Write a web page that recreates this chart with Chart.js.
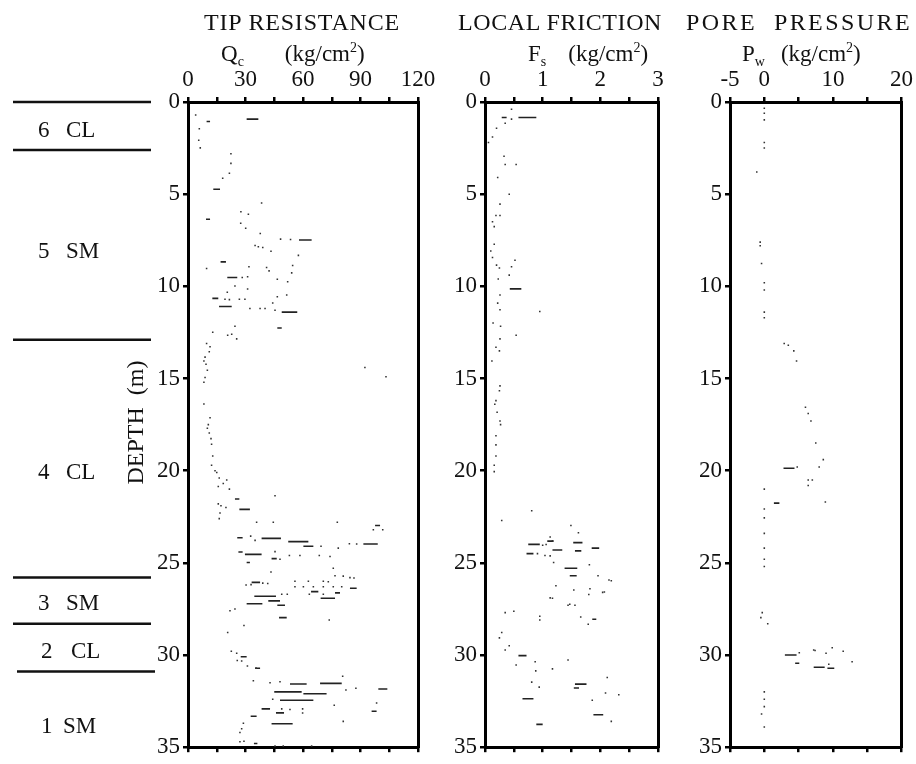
<!DOCTYPE html>
<html><head><meta charset="utf-8">
<script src="https://cdn.jsdelivr.net/npm/chart.js@4.4.1/dist/chart.umd.min.js"></script>
<style>
html,body{margin:0;padding:0;background:#fff;}
#wrap{position:relative;width:916px;height:764px;overflow:hidden;font-family:"Liberation Serif","Times New Roman",serif;color:#111;}
canvas{position:absolute;left:0;top:0;}
.t{position:absolute;white-space:nowrap;font-size:24px;line-height:24px;}
.u{position:absolute;white-space:nowrap;font-size:23px;line-height:23px;}
.u sub{font-size:14px;vertical-align:-5px;line-height:0;}
.u sup{font-size:14px;vertical-align:9px;line-height:0;}
.u .g{display:inline-block;}
</style></head><body>
<div id="wrap">
<canvas id="c1" width="916" height="764" style="width:916px;height:764px"></canvas>
<canvas id="c2" width="916" height="764" style="width:916px;height:764px"></canvas>
<canvas id="c3" width="916" height="764" style="width:916px;height:764px"></canvas>
<div class="t" data-w="196" style="left:204px;top:10px">TIP RESISTANCE</div>
<div class="t" data-w="204" style="left:458px;top:10px">LOCAL FRICTION</div>
<div class="t" data-w="226" style="left:686px;top:10px">PORE&nbsp; PRESSURE</div>
<div class="u" style="left:221px;top:42px">Q<sub>c</sub><span class="g" style="width:41px"></span>(kg/cm<sup>2</sup>)</div>
<div class="u" style="left:528px;top:42px">F<sub>s</sub><span class="g" style="width:22px"></span>(kg/cm<sup>2</sup>)</div>
<div class="u" style="left:742px;top:42px">P<sub>w</sub><span class="g" style="width:16px"></span>(kg/cm<sup>2</sup>)</div>
</div>
<script>
// ---------------- data ----------------
// soil layers (depth in m)
const layerBounds = [0, 2.6, 12.9, 25.8, 28.3, 30.9];
const layerNumbers = ["6", "5", "4", "3", "2", "1"];
const layerCodes = ["CL", "SM", "CL", "SM", "CL", "SM"];
const layerLabelDepths = [1.55, 8.15, 20.15, 27.25, 29.85, 33.9];
const depthTicks = [0, 5, 10, 15, 20, 25, 30, 35];

// Tip resistance Qc (kg/cm2): [depth, Qc]
const qcDots = [[0.70,4.0],[1.45,5.9],[2.08,5.6],[2.49,6.4],[2.81,22.4],[3.33,22.4],[3.87,21.6],[4.14,18.1],[5.48,38.4],[5.95,27.6],[6.09,31.5],[6.58,27.5],[6.85,30.1],[7.13,37.7],[7.44,48.3],[7.46,53.5],[7.78,35.0],[7.85,36.7],[7.89,39.0],[8.10,43.3],[8.32,57.6],[8.87,54.6],[8.94,31.8],[8.98,41.0],[9.16,42.3],[9.27,54.1],[9.03,9.7],[9.52,28.3],[9.48,31.1],[9.61,46.6],[9.75,52.0],[9.98,24.5],[10.14,31.1],[10.32,20.5],[10.47,51.5],[10.56,46.6],[10.70,19.3],[10.72,21.6],[10.70,26.8],[10.70,29.7],[10.9,44.2],[11.2,32.3],[11.2,37.6],[11.2,40.2],[11.3,45.4],[12.17,24.5],[12.49,12.9],[12.6,22.8],[12.65,20.7],[12.85,25.4],[13.1,9.7],[13.28,11.5],[13.55,11.1],[13.84,8.9],[14.05,8.3],[14.23,9.4],[14.55,10.1],[14.95,8.9],[15.2,8.3],[14.4,92.3],[14.9,103.3],[16.38,8.3],[17.13,11.5],[17.5,10.6],[17.7,10.1],[17.96,11.1],[18.26,12.0],[18.57,12.3],[19.2,12.9],[19.7,12.3],[20.0,14.1],[20.1,15.0],[20.4,16.3],[20.7,18.4],[20.5,20.2],[20.86,15.8],[21.0,21.6],[21.36,45.4],[21.8,15.8],[21.9,17.2],[22.0,19.8],[22.3,16.7],[22.6,16.3],[22.8,35.8],[22.8,44.5],[22.8,77.9],[23.2,96.7],[23.2,101.6],[23.55,32.7],[23.78,35.0],[24.1,69.4],[24.2,78.4],[23.96,84.2],[23.98,88.0],[24.39,45.4],[24.6,52.9],[24.6,58.4],[24.6,68.5],[24.65,74.1],[24.8,48.0],[25.29,75.8],[25.5,43.3],[25.7,76.7],[25.72,81.0],[25.8,84.5],[25.82,86.6],[26.2,30.3],[26.18,32.9],[26.1,39.0],[26.12,41.6],[26.0,55.8],[26.0,62.8],[26.0,70.6],[26.02,73.2],[26.3,55.8],[26.3,60.2],[26.3,65.4],[26.3,70.6],[26.3,75.8],[26.3,80.2],[26.7,48.9],[26.7,51.8],[26.7,63.3],[26.7,70.6],[27.6,21.9],[27.5,24.5],[28.1,73.7],[28.4,29.2],[28.78,20.7],[29.8,22.6],[29.9,25.4],[30.3,25.7],[30.32,28.0],[30.6,31.0],[30.7,35.5],[31.15,80.7],[31.4,34.1],[31.5,42.8],[31.45,48.0],[31.9,82.4],[31.8,87.6],[32.4,44.2],[32.6,98.4],[32.72,76.3],[32.92,48.9],[32.95,53.2],[32.92,59.8],[33.14,59.8],[33.6,81.0],[33.7,28.9],[34.0,28.0],[34.2,27.1],[34.7,27.1],[34.68,29.2],[34.93,45.4],[34.93,49.7],[34.93,64.5]];
// short runs of readings: [depth, Qc from, Qc to]
const qcRuns = [[0.93,30.6,36.7],[1.06,9.7,11.5],[4.73,13.2,16.7],[6.36,9.4,11.5],[7.49,57.9,64.5],[8.67,17.0,19.8],[9.52,20.5,25.7],[10.65,12.7,15.8],[11.09,16.2,22.8],[11.4,48.9,57.0],[12.26,46.6,48.9],[21.54,24.5,26.8],[22.1,26.8,32.3],[22.97,97.6,100.2],[23.64,25.7,28.5],[23.67,38.4,48.5],[23.85,52.3,62.8],[24.1,60.2,65.4],[23.98,91.5,99.0],[24.41,26.3,28.5],[24.54,29.7,38.4],[24.77,43.6,46.3],[24.98,30.6,32.3],[26.06,33.2,37.6],[26.38,84.5,88.0],[26.56,64.2,68.0],[26.63,76.7,79.3],[26.81,34.6,45.9],[26.92,69.2,76.7],[27.06,41.9,48.0],[27.22,30.6,38.8],[27.3,46.6,50.6],[27.97,47.5,51.5],[30.09,27.5,30.6],[30.72,35.0,37.6],[31.57,53.2,61.9],[31.54,68.9,80.2],[31.84,99.3,104.0],[32.0,45.0,59.3],[32.1,60.2,72.3],[32.45,48.0,65.4],[32.92,38.4,42.8],[33.05,95.8,98.4],[33.14,45.9,50.1],[33.32,32.7,35.8],[33.73,43.6,54.6],[34.8,34.4,36.2]];

// Local friction Fs (kg/cm2): [depth, Fs]
const fsDots = [[0.39,0.46],[0.93,0.46],[1.15,0.35],[1.42,0.20],[1.9,0.13],[2.2,0.06],[2.94,0.33],[3.39,0.35],[3.39,0.54],[4.1,0.22],[5.0,0.42],[5.54,0.26],[6.16,0.26],[6.16,0.19],[6.5,0.13],[6.76,0.16],[7.72,0.16],[8.08,0.10],[8.44,0.13],[8.85,0.20],[9.0,0.25],[8.58,0.52],[8.94,0.46],[9.39,0.42],[9.6,0.23],[10.47,0.26],[10.91,0.22],[11.27,0.26],[11.36,0.95],[11.99,0.14],[12.17,0.27],[12.65,0.54],[12.85,0.26],[13.3,0.19],[13.5,0.25],[14.05,0.12],[15.4,0.26],[15.66,0.25],[16.2,0.19],[16.4,0.17],[16.83,0.21],[17.3,0.26],[17.5,0.27],[18.1,0.19],[18.6,0.19],[19.2,0.19],[19.7,0.16],[20.05,0.16],[22.17,0.81],[22.7,0.29],[22.97,1.49],[23.37,1.62],[23.6,1.13],[23.8,1.17],[24.0,1.06],[24.05,1.0],[24.5,0.91],[24.6,1.04],[24.62,1.13],[24.98,1.19],[25.1,1.81],[25.7,1.96],[25.93,2.15],[25.97,2.19],[26.24,1.23],[26.47,1.54],[26.4,1.82],[26.72,1.80],[26.6,2.04],[26.58,2.07],[26.9,1.13],[26.92,1.17],[27.3,1.44],[27.25,1.47],[27.3,1.56],[27.7,0.35],[27.62,0.50],[27.9,0.95],[28.1,0.95],[27.94,1.66],[28.33,1.79],[28.78,0.29],[29.07,0.25],[29.73,0.35],[29.5,0.42],[30.36,0.87],[30.54,0.54],[30.27,1.44],[30.75,1.17],[30.86,0.88],[31.22,2.12],[31.47,0.81],[31.74,0.94],[32.06,2.09],[32.15,2.32],[32.45,1.86],[33.6,2.19]];
const fsRuns = [[0.84,0.29,0.375],[0.84,0.58,0.89],[10.14,0.43,0.63],[24.0,0.75,0.95],[23.82,1.08,1.19],[23.9,1.53,1.69],[24.3,1.17,1.34],[24.35,1.56,1.67],[24.2,1.85,1.98],[24.5,0.72,0.84],[25.29,1.38,1.60],[25.7,1.47,1.59],[28.06,1.86,1.93],[30.03,0.58,0.72],[31.58,1.56,1.76],[31.79,1.54,1.63],[32.37,0.65,0.84],[33.24,1.88,2.05],[33.76,0.89,1.0]];

// Pore pressure Pw (kg/cm2): [depth, Pw]
const pwDots = [[0.34,0],[0.61,0],[0.97,0],[2.2,0],[2.5,0],[3.8,-1.1],[7.6,-0.6],[7.8,-0.6],[8.76,-0.4],[9.8,0],[10.2,0],[11.4,0],[11.7,0],[13.1,2.9],[13.2,3.5],[13.5,4.3],[14.05,4.7],[16.56,6.0],[16.9,6.4],[17.3,6.8],[18.5,7.5],[19.4,8.6],[19.8,8.0],[19.8,4.8],[20.5,6.4],[20.5,7.0],[20.8,6.4],[21.0,0],[21.7,8.9],[22.08,0],[22.56,0],[23.4,0],[24.2,0],[24.8,0],[25.2,0],[27.7,-0.3],[27.97,-0.5],[28.3,0.5],[29.88,5.1],[29.73,7.2],[29.75,7.4],[29.9,9.0],[29.6,9.9],[29.8,11.5],[30.36,12.8],[30.5,9.4],[32.0,0],[32.4,0],[32.8,0],[33.2,-0.4],[33.9,0]];
const pwRuns = [[19.87,2.8,4.4],[21.76,1.4,2.2],[30.0,3.0,4.7],[30.45,4.5,5.1],[30.66,7.2,8.8],[30.72,9.2,10.2]];

// axis ticks
const qcTickLabels = [0, 30, 60, 90, 120];
const fsTickLabels = [0, 1, 2, 3];
const pwTickLabels = [-5, 0, 10, 20];

// ---------------- drawing ----------------
const FONT = '"Liberation Serif", "Times New Roman", serif';
const INK = '#111';
const TOP = 102, BOTTOM = 753;

function datasetsFrom(dots, runs) {
  const ds = [{
    type: 'scatter',
    data: dots.map(d => ({x: d[1], y: d[0]})),
    pointRadius: 1.1, pointHoverRadius: 1.1, borderWidth: 0,
    backgroundColor: '#333', pointStyle: 'rect'
  }];
  runs.forEach(r => ds.push({
    type: 'scatter', showLine: true,
    data: [{x: r[1], y: r[0]}, {x: r[2], y: r[0]}],
    borderColor: '#222', borderWidth: 1.6, pointRadius: 0, fill: false
  }));
  return ds;
}

function makeChart(id, cfg) {
  const xTicks = {
    stepSize: cfg.step, autoSkip: false, maxRotation: 0, minRotation: 0,
    color: INK, font: {family: FONT, size: 23}, padding: 3,
    callback: v => cfg.labels.some(l => Math.abs(l - v) < 1e-9) ? String(v) : ''
  };
  const gridT = {drawOnChartArea: false, drawTicks: true, tickLength: 5, color: '#000', lineWidth: 2.5};
  const border = {display: true, width: 3, color: '#000'};
  return new Chart(document.getElementById(id), {
    type: 'scatter',
    data: {datasets: datasetsFrom(cfg.dots, cfg.runs)},
    options: {
      responsive: false, animation: false, devicePixelRatio: 1,
      layout: {padding: {left: 0, right: 916 - cfg.right, top: 0, bottom: 0}},
      plugins: {legend: {display: false}, tooltip: {enabled: false}, title: {display: false}},
      scales: {
        x: {type: 'linear', position: 'top', min: cfg.min, max: cfg.max,
            ticks: xTicks, grid: gridT, border,
            afterFit: s => { s.height = TOP; }},
        x2: {type: 'linear', position: 'bottom', min: cfg.min, max: cfg.max,
            ticks: {stepSize: cfg.step, display: false, autoSkip: false},
            grid: gridT, border,
            afterFit: s => { s.height = 764 - BOTTOM; }},
        y: {type: 'linear', position: 'left', reverse: true, min: 0, max: 35,
            afterBuildTicks: s => { s.ticks = depthTicks.map(v => ({value: v})); },
            ticks: {color: INK, font: {family: FONT, size: 23}, padding: 3, autoSkip: false},
            grid: {drawOnChartArea: false, drawTicks: true, tickLength: 5, color: '#000', lineWidth: 2.5},
            border,
            afterFit: s => { s.width = cfg.left; }},
        y2: {type: 'linear', position: 'right', reverse: true, min: 0, max: 35,
            ticks: {display: false}, grid: {drawOnChartArea: false, drawTicks: false}, border,
            afterFit: s => { s.width = 0; }}
      }
    },
    plugins: cfg.plugins || []
  });
}

const layerPlugin = {
  id: 'layers',
  afterDraw(chart) {
    const ctx = chart.ctx, y = chart.scales.y;
    ctx.save();
    ctx.strokeStyle = INK; ctx.lineWidth = 2.5;
    layerBounds.forEach((d, i) => {
      const py = y.getPixelForValue(d);
      const last = i === layerBounds.length - 1;
      ctx.beginPath(); ctx.moveTo(last ? 17 : 13, py); ctx.lineTo(last ? 155 : 151, py); ctx.stroke();
    });
    ctx.fillStyle = INK; ctx.font = '23px ' + FONT; ctx.textBaseline = 'middle'; ctx.textAlign = 'left';
    layerNumbers.forEach((n, i) => {
      const py = y.getPixelForValue(layerLabelDepths[i]);
      const nx = (n === '2' || n === '1') ? 41 : 38;
      const cx = n === '2' ? 71 : (n === '1' ? 63 : 66);
      ctx.fillText(n, nx, py);
      ctx.fillText(layerCodes[i], cx, py);
    });
    ctx.font = '24px ' + FONT;
    ctx.translate(137, (y.top + y.bottom) / 2 - 2);
    ctx.rotate(-Math.PI / 2);
    ctx.textAlign = 'center';
    ctx.fillText('DEPTH  (m)', 0, 0);
    ctx.restore();
  }
};

makeChart('c1', {min: 0, max: 120, step: 15, labels: qcTickLabels, left: 188, right: 418, dots: qcDots, runs: qcRuns, plugins: [layerPlugin]});
makeChart('c2', {min: 0, max: 3, step: 0.5, labels: fsTickLabels, left: 485, right: 658, dots: fsDots, runs: fsRuns});
makeChart('c3', {min: -5, max: 20, step: 5, labels: pwTickLabels, left: 730, right: 903, dots: pwDots, runs: pwRuns});

document.querySelectorAll('[data-w]').forEach(el => {
  const target = +el.dataset.w, n = el.textContent.length;
  const w = el.getBoundingClientRect().width;
  el.style.letterSpacing = ((target - w) / n) + 'px';
});
</script>
</body></html>
